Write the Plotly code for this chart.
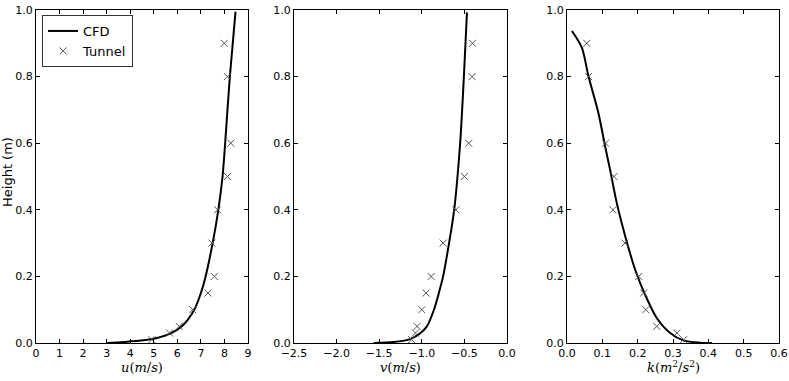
import plotly.graph_objects as go

# ---- Data ----
# Panel 1: u (m/s)
cfd_u = [3.0, 3.73, 4.57, 5.13, 5.7, 6.19, 6.72, 7.0, 7.2, 7.5, 7.74, 7.92, 8.03, 8.23, 8.47]
cfd_u_h = [0.0, 0.003, 0.008, 0.015, 0.028, 0.05, 0.1, 0.15, 0.2, 0.3, 0.4, 0.5, 0.6, 0.8, 0.995]
tun_u = [4.92, 5.67, 6.08, 6.65, 7.3, 7.57, 7.47, 7.71, 8.13, 8.27, 8.13, 7.99]
tun_h = [0.01, 0.03, 0.05, 0.1, 0.15, 0.2, 0.3, 0.4, 0.5, 0.6, 0.8, 0.9]

# Panel 2: v (m/s)
cfd_v = [-1.565, -1.33, -1.155, -1.04, -0.94, -0.857, -0.80, -0.75, -0.68, -0.62, -0.55, -0.506, -0.47]
cfd_v_h = [0.0, 0.003, 0.01, 0.025, 0.05, 0.1, 0.15, 0.2, 0.3, 0.4, 0.6, 0.8, 0.993]
tun_v = [-1.12, -1.075, -1.055, -1.0, -0.95, -0.89, -0.75, -0.60, -0.50, -0.45, -0.41, -0.405]
tun_v_h = [0.01, 0.03, 0.05, 0.1, 0.15, 0.2, 0.3, 0.4, 0.5, 0.6, 0.8, 0.9]

# Panel 3: k (m^2/s^2)
cfd_k = [0.014, 0.042, 0.061, 0.089, 0.108, 0.122, 0.141, 0.165, 0.193, 0.221, 0.254, 0.292, 0.329, 0.376, 0.41]
cfd_k_h = [0.937, 0.887, 0.80, 0.69, 0.59, 0.52, 0.42, 0.32, 0.22, 0.145, 0.075, 0.03, 0.008, 0.001, 0.0]
tun_k = [0.33, 0.311, 0.254, 0.223, 0.217, 0.203, 0.164, 0.13, 0.133, 0.109, 0.061, 0.056]
tun_k_h = [0.01, 0.03, 0.05, 0.1, 0.15, 0.2, 0.3, 0.4, 0.5, 0.6, 0.8, 0.9]

x_ranges = [[0, 9], [-2.5, 0.0], [0.0, 0.6]]
x_dtick = [1, 0.5, 0.1]
x_fmt = ["d", ".1f", ".1f"]
x_titles = ["<i>u</i>(<i>m</i>/<i>s</i>)", "<i>v</i>(<i>m</i>/<i>s</i>)",
            "<i>k</i>(<i>m</i><sup>2</sup>/<i>s</i><sup>2</sup>)"]
y_title = "Height (m)"

W, H = 789, 381
px_left = [36, 294, 567]
px_right = [248, 507, 779]
px_top, px_bottom = 10, 343

fig = go.Figure()
line_style = dict(color="black", width=2, shape="spline", smoothing=0.8)
mk_style = dict(symbol="x-thin", size=7, color="#555555", line=dict(color="#555555", width=1))

series = [(cfd_u, cfd_u_h, tun_u, tun_h), (cfd_v, cfd_v_h, tun_v, tun_v_h), (cfd_k, cfd_k_h, tun_k, tun_k_h)]
for i, (cx, cy, tx, ty) in enumerate(series):
    xa = "x" if i == 0 else f"x{i+1}"
    ya = "y" if i == 0 else f"y{i+1}"
    fig.add_trace(go.Scatter(x=cx, y=cy, mode="lines", line=line_style, name="CFD",
                             showlegend=(i == 0), xaxis=xa, yaxis=ya, cliponaxis=True))
    fig.add_trace(go.Scatter(x=tx, y=ty, mode="markers", marker=mk_style, name="Tunnel",
                             showlegend=(i == 0), xaxis=xa, yaxis=ya))

tickfont = dict(family="DejaVu Sans", size=11, color="black")
layout = dict(
    width=W, height=H, margin=dict(l=0, r=0, t=0, b=0, autoexpand=False),
    plot_bgcolor="white", paper_bgcolor="white",
    showlegend=True,
    legend=dict(x=42 / W, y=1 - 15 / H, xanchor="left", yanchor="top",
                bordercolor="#333333", borderwidth=1, bgcolor="white",
                font=dict(family="DejaVu Sans", size=13, color="black"),
                itemwidth=30, tracegroupgap=0),
)
for i in range(3):
    xk = "xaxis" if i == 0 else f"xaxis{i+1}"
    yk = "yaxis" if i == 0 else f"yaxis{i+1}"
    ya = "y" if i == 0 else f"y{i+1}"
    xa = "x" if i == 0 else f"x{i+1}"
    layout[xk] = dict(domain=[px_left[i] / W, px_right[i] / W], range=x_ranges[i],
                      dtick=x_dtick[i], tick0=x_ranges[i][0], tickformat=x_fmt[i],
                      anchor=ya, showgrid=False, zeroline=False, showline=True,
                      linecolor="black", linewidth=1.3, mirror="ticks", ticks="inside",
                      ticklen=4, tickcolor="black", tickfont=tickfont, automargin=False)
    layout[yk] = dict(domain=[1 - px_bottom / H, 1 - px_top / H], range=[0, 1.0],
                      dtick=0.2, tickformat=".1f", anchor=xa, showgrid=False,
                      zeroline=False, showline=True, linecolor="black", linewidth=1.3,
                      mirror="ticks", ticks="inside", ticklen=4, tickcolor="black",
                      tickfont=tickfont, automargin=False)
fig.update_layout(**layout)

annotations = []
for i in range(3):
    cx = (px_left[i] + px_right[i]) / 2 / W
    annotations.append(dict(text=x_titles[i], x=cx, y=1 - 367 / H, xref="paper", yref="paper",
                            xanchor="center", yanchor="middle", showarrow=False,
                            font=dict(family="DejaVu Serif", size=13, color="black")))
annotations.append(dict(text=y_title, x=8 / W, y=1 - 172 / H, xref="paper", yref="paper",
                        xanchor="center", yanchor="middle", textangle=-90, showarrow=False,
                        font=dict(family="DejaVu Sans", size=13, color="black")))
fig.update_layout(annotations=annotations)

fig.write_html("out.html", config={"displayModeBar": False})

# remove the default page margin so the figure sits at the window's top-left corner
with open("out.html", "r", encoding="utf-8") as f:
    html = f.read()
html = html.replace("<body>", '<body style="margin:0;overflow:hidden">', 1)
with open("out.html", "w", encoding="utf-8") as f:
    f.write(html)
